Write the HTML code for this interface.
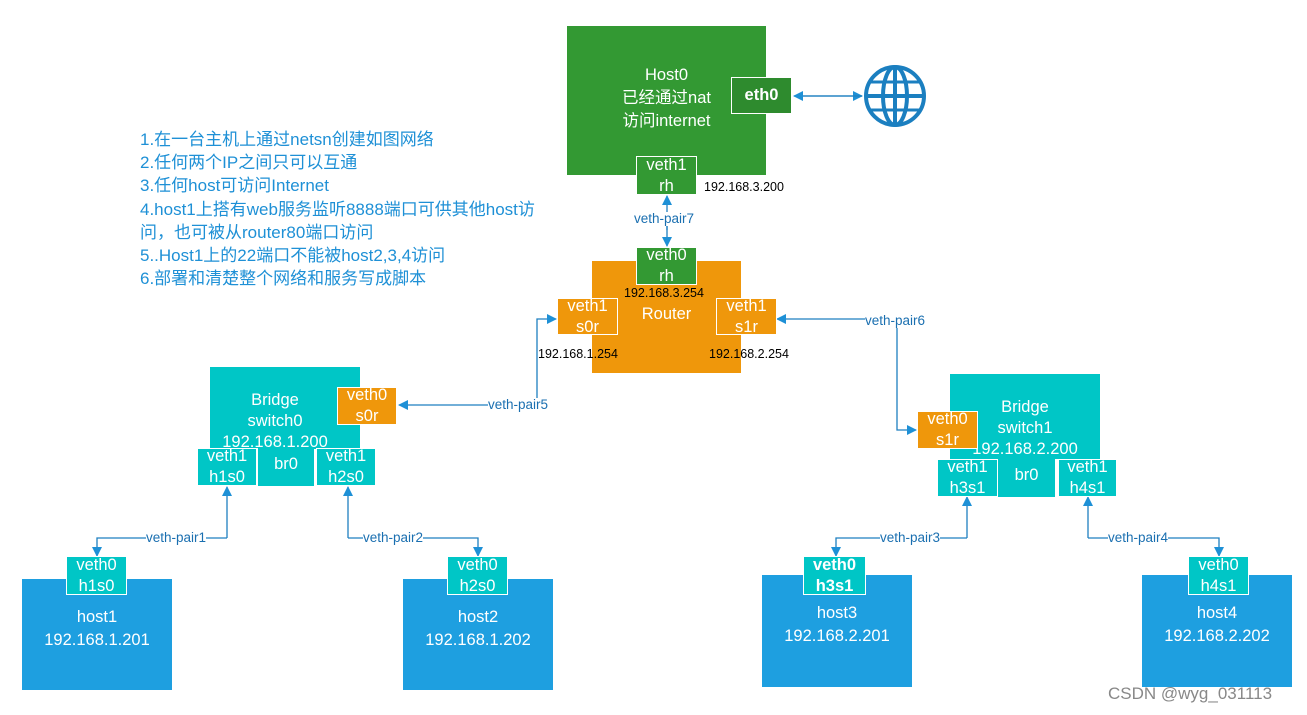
<!DOCTYPE html>
<html><head><meta charset="utf-8"><style>
body{margin:0;width:1307px;height:715px;background:#fff;position:relative;overflow:hidden;font-family:"Liberation Sans","Noto Sans CJK SC",sans-serif}
.b{position:absolute;box-sizing:border-box;color:#fff;display:flex;align-items:center;justify-content:center;text-align:center;font-size:16.5px;line-height:21px}
.big{line-height:23px}
.g{background:#339933}.o{background:#ef970b}.t{background:#00c6c6}.bl{background:#1e9fe0}
.w{border:1px solid #fff}
.s{position:absolute;font-size:12.5px;color:#000;white-space:nowrap}
.l{position:absolute;font-size:13.5px;color:#1a6fb0;background:#fff;white-space:nowrap;line-height:14px}
#txt{position:absolute;left:140px;top:128px;color:#1e90d6;font-size:17px;line-height:23.2px;white-space:nowrap}
</style></head><body>
<div id="txt">1.在一台主机上通过netsn创建如图网络<br>2.任何两个IP之间只可以互通<br>3.任何host可访问Internet<br>4.host1上搭有web服务监听8888端口可供其他host访<br>问，也可被从router80端口访问<br>5..Host1上的22端口不能被host2,3,4访问<br>6.部署和清楚整个网络和服务写成脚本</div>

<svg width="1307" height="715" style="position:absolute;left:0;top:0">
<defs><marker id="a" markerWidth="10" markerHeight="10" refX="9" refY="5" orient="auto" markerUnits="userSpaceOnUse"><path d="M0,0 L10,5 L0,10z" fill="#1e90d6"/></marker></defs>
<g stroke="#1e7fc0" stroke-width="1.3" fill="none">
<line x1="800" y1="96" x2="862" y2="96" marker-end="url(#a)"/><line x1="862" y1="96" x2="794" y2="96" marker-end="url(#a)"/>
<line x1="667" y1="230" x2="667" y2="196" marker-end="url(#a)"/><line x1="667" y1="215" x2="667" y2="246" marker-end="url(#a)"/>
<polyline points="537,405 537,319 556,319" marker-end="url(#a)"/>
<line x1="537" y1="405" x2="399" y2="405" marker-end="url(#a)"/>
<polyline points="897,319 777,319" marker-end="url(#a)"/>
<polyline points="897,319 897,430 916,430" marker-end="url(#a)"/>
<polyline points="227,538 227,487" marker-end="url(#a)"/><polyline points="227,538 97,538 97,556" marker-end="url(#a)"/>
<polyline points="348,538 348,487" marker-end="url(#a)"/><polyline points="348,538 478,538 478,556" marker-end="url(#a)"/>
<polyline points="967,538 967,497" marker-end="url(#a)"/><polyline points="967,538 836,538 836,556" marker-end="url(#a)"/>
<polyline points="1088,538 1088,497" marker-end="url(#a)"/><polyline points="1088,538 1219,538 1219,556" marker-end="url(#a)"/>
</g>
<g stroke="#1b7fc0" stroke-width="4" fill="none">
<circle cx="895" cy="96" r="29"/>
<ellipse cx="895" cy="96" rx="12" ry="29"/>
<line x1="895" y1="67" x2="895" y2="125"/><line x1="866" y1="96" x2="924" y2="96"/>
<line x1="870" y1="82" x2="920" y2="82" stroke-width="3"/><line x1="870" y1="110" x2="920" y2="110" stroke-width="3"/>
</g>
</svg>

<div class="b g big" style="left:567px;top:26px;width:199px;height:149px;padding-bottom:4px">Host0<br>已经通过nat<br>访问internet</div>
<div class="b w" style="left:731px;top:77px;width:61px;height:37px;background:#2e8b2e;font-weight:bold">eth0</div>
<div class="b g w" style="left:636px;top:156px;width:61px;height:39px">veth1<br>rh</div>
<div class="s" style="left:704px;top:180px">192.168.3.200</div>
<div class="l" style="left:634px;top:212px">veth-pair7</div>

<div class="b o" style="left:592px;top:261px;width:149px;height:112px;padding-bottom:6px">Router</div>
<div class="b g w" style="left:636px;top:247px;width:61px;height:38px">veth0<br>rh</div>
<div class="s" style="left:624px;top:286px">192.168.3.254</div>
<div class="b o w" style="left:557px;top:298px;width:61px;height:37px">veth1<br>s0r</div>
<div class="b o w" style="left:716px;top:298px;width:61px;height:37px">veth1<br>s1r</div>
<div class="s" style="left:538px;top:347px">192.168.1.254</div>
<div class="s" style="left:709px;top:347px">192.168.2.254</div>
<div class="l" style="left:865px;top:314px">veth-pair6</div>
<div class="l" style="left:488px;top:398px">veth-pair5</div>

<div class="b t" style="left:210px;top:367px;width:150px;height:82px;align-items:flex-start;padding-top:23px;padding-right:20px;overflow:hidden">Bridge<br>switch0<br>192.168.1.200</div>
<div class="b o w" style="left:337px;top:387px;width:60px;height:38px">veth0<br>s0r</div>
<div class="b t w" style="left:197px;top:448px;width:60px;height:38px">veth1<br>h1s0</div>
<div class="b t" style="left:257px;top:448px;width:57px;height:38px;border-left:1px solid #fff;padding-bottom:6px">br0</div>
<div class="b t w" style="left:316px;top:448px;width:60px;height:38px">veth1<br>h2s0</div>
<div class="l" style="left:146px;top:531px">veth-pair1</div>
<div class="l" style="left:363px;top:531px">veth-pair2</div>

<div class="b bl big" style="left:22px;top:579px;width:150px;height:111px;padding-bottom:12px">host1<br>192.168.1.201</div>
<div class="b t w" style="left:66px;top:556px;width:61px;height:39px">veth0<br>h1s0</div>
<div class="b bl big" style="left:403px;top:579px;width:150px;height:111px;padding-bottom:12px">host2<br>192.168.1.202</div>
<div class="b t w" style="left:447px;top:556px;width:61px;height:39px">veth0<br>h2s0</div>

<div class="b t" style="left:950px;top:374px;width:150px;height:85px;align-items:flex-start;padding-top:23px;overflow:hidden">Bridge<br>switch1<br>192.168.2.200</div>
<div class="b o w" style="left:917px;top:411px;width:61px;height:38px">veth0<br>s1r</div>
<div class="b t w" style="left:937px;top:459px;width:61px;height:38px">veth1<br>h3s1</div>
<div class="b t" style="left:998px;top:459px;width:57px;height:38px;padding-bottom:6px">br0</div>
<div class="b t w" style="left:1058px;top:459px;width:59px;height:38px">veth1<br>h4s1</div>
<div class="l" style="left:880px;top:531px">veth-pair3</div>
<div class="l" style="left:1108px;top:531px">veth-pair4</div>

<div class="b bl big" style="left:762px;top:575px;width:150px;height:112px;padding-bottom:12px">host3<br>192.168.2.201</div>
<div class="b t w" style="left:803px;top:556px;width:63px;height:39px;font-weight:bold">veth0<br>h3s1</div>
<div class="b bl big" style="left:1142px;top:575px;width:150px;height:112px;padding-bottom:12px">host4<br>192.168.2.202</div>
<div class="b t w" style="left:1188px;top:556px;width:61px;height:39px">veth0<br>h4s1</div>
<div style="position:absolute;left:1108px;top:684px;font-size:17px;color:#888">CSDN @wyg_031113</div>
</body></html>
